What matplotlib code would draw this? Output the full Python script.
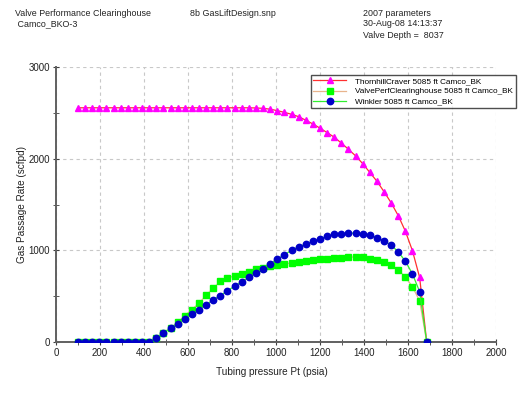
import matplotlib
matplotlib.use("Agg")
import matplotlib.pyplot as plt
from matplotlib.ticker import MultipleLocator

plt.rcParams["font.family"] = ["Liberation Sans", "DejaVu Sans"]

# Tubing pressure (psia) at which each valve model was evaluated
pressure = [100, 132, 165, 197, 229, 262, 294, 326, 359, 391,
            424, 456, 488, 521, 553, 585, 618, 650, 682, 715,
            747, 779, 812, 844, 876, 909, 941, 973, 1006, 1038,
            1071, 1103, 1135, 1168, 1200, 1232, 1265, 1297, 1329, 1362,
            1394, 1426, 1459, 1491, 1523, 1556, 1588, 1620, 1653, 1685]

# Gas passage rate (scfpd)
thornhill = [2555, 2555, 2555, 2555, 2555, 2555, 2555, 2555, 2555, 2555,
             2555, 2555, 2555, 2555, 2555, 2555, 2555, 2555, 2555, 2555,
             2555, 2555, 2555, 2555, 2555, 2553, 2549, 2540, 2524, 2505,
             2484, 2458, 2420, 2378, 2333, 2285, 2234, 2170, 2103, 2030,
             1946, 1851, 1753, 1640, 1520, 1377, 1209, 997, 704, 0]

vpc = [0, 0, 0, 0, 0, 0, 0, 0, 0, 0,
       0, 40, 101, 150, 213, 285, 354, 422, 509, 588,
       661, 697, 722, 747, 769, 791, 812, 827, 838, 850,
       863, 877, 884, 892, 903, 908, 915, 921, 925, 928,
       928, 910, 895, 874, 841, 783, 711, 603, 448, 0]

winkler = [0, 0, 0, 0, 0, 0, 0, 0, 0, 0,
           0, 40, 101, 148, 199, 256, 303, 350, 404, 462,
           507, 558, 610, 657, 704, 755, 801, 856, 903, 953,
           1000, 1040, 1067, 1100, 1127, 1153, 1173, 1181, 1187, 1188,
           1181, 1163, 1139, 1105, 1058, 982, 881, 744, 549, 0]

labels = ["ThornhillCraver 5085 ft Camco_BK",
          "ValvePerfClearinghouse 5085 ft Camco_BK",
          "Winkler 5085 ft Camco_BK"]

fig = plt.figure(figsize=(5.3, 4.0), dpi=100)
ax = fig.add_axes([56 / 530, 58 / 400, 440 / 530, 275 / 400])

ax.plot(pressure, thornhill, color="#ff3030", lw=0.9, marker="^", ms=4.8,
        mfc="#ff00ff", mec="#ff00ff", label=labels[0], zorder=3)
ax.plot(pressure, vpc, color="#e8b48c", lw=0.9, marker="s", ms=4.4,
        mfc="#00ff00", mec="#00ff00", label=labels[1], zorder=4)
ax.plot(pressure, winkler, color="#30ee30", lw=0.9, marker="o", ms=4.6,
        mfc="#0000c8", mec="#0000c8", label=labels[2], zorder=5)

ax.set_xlim(0, 2000)
ax.set_ylim(0, 3000)
ax.xaxis.set_major_locator(MultipleLocator(200))
ax.xaxis.set_minor_locator(MultipleLocator(100))
ax.yaxis.set_major_locator(MultipleLocator(1000))
ax.yaxis.set_minor_locator(MultipleLocator(500))
ax.grid(True, which="major", color="#c8c8c8", ls=(0, (3, 3)), lw=0.8)
ax.set_axisbelow(True)

for side in ("top", "right"):
    ax.spines[side].set_visible(False)
for side in ("left", "bottom"):
    ax.spines[side].set_color("#606060")
    ax.spines[side].set_linewidth(1.4)
ax.tick_params(which="both", direction="inout", color="#404040",
               labelsize=7, labelcolor="#222222", pad=2)
ax.tick_params(which="major", length=5)
ax.tick_params(which="minor", length=4)

ax.set_xlabel("Tubing pressure Pt (psia)", fontsize=7.2, color="#222222")
ax.set_ylabel("Gas Passage Rate (scfpd)", fontsize=7.2, color="#222222")
ax.xaxis.set_label_coords(0.49, -0.09)
ax.yaxis.set_label_coords(-0.065, 0.5)

# header block
hdr = dict(fontsize=6.4, color="#222222", va="center", ha="left")
fig.text(15 / 530, 1 - 13 / 400, "Valve Performance Clearinghouse", **hdr)
fig.text(15 / 530, 1 - 24 / 400, " Camco_BKO-3", **hdr)
fig.text(190 / 530, 1 - 13 / 400, "8b GasLiftDesign.snp", **hdr)
fig.text(363 / 530, 1 - 13 / 400, "2007 parameters", **hdr)
fig.text(363 / 530, 1 - 24 / 400, "30-Aug-08 14:13:37", **hdr)
fig.text(363 / 530, 1 - 35 / 400, "Valve Depth =  8037", **hdr)

leg = fig.legend(loc="upper left", bbox_to_anchor=(311 / 530, 1 - 75 / 400),
                 fontsize=5.9, frameon=True, fancybox=False,
                 handlelength=4.0, handletextpad=1.1, labelspacing=0.3,
                 borderpad=0.3, borderaxespad=0)
leg.get_frame().set_edgecolor("#222222")
leg.get_frame().set_linewidth(1.0)

fig.savefig("out.png", dpi=100)
